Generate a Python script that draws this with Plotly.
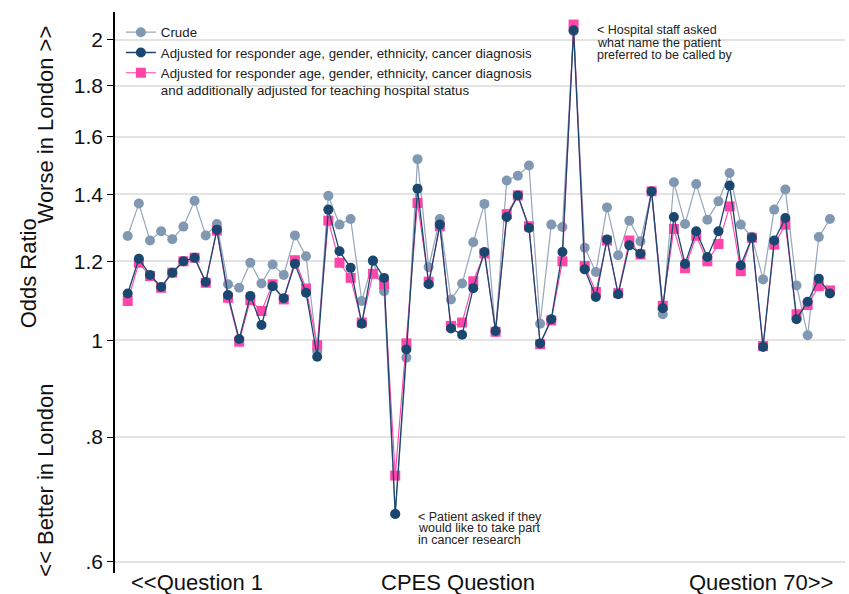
import math
import plotly.graph_objects as go

# Odds ratios (64 plotted CPES questions)
crude = [1.272, 1.371, 1.259, 1.286, 1.263, 1.300, 1.380, 1.274, 1.308, 1.138,
         1.129, 1.196, 1.140, 1.191, 1.163, 1.274, 1.214, 0.975, 1.396, 1.306,
         1.323, 1.095, 1.200, 1.120, 0.670, 0.961, 1.519, 1.184, 1.323, 1.099,
         1.140, 1.254, 1.370, 1.020, 1.446, 1.462, 1.497, 1.039, 1.306, 1.299,
         2.040, 1.238, 1.171, 1.359, 1.217, 1.318, 1.257, 1.410, 1.062, 1.440,
         1.308, 1.434, 1.321, 1.378, 1.471, 1.306, 1.270, 1.151, 1.352, 1.416,
         1.135, 1.012, 1.269, 1.323]
adjusted = [1.114, 1.207, 1.163, 1.131, 1.169, 1.200, 1.210, 1.144, 1.291, 1.110,
            1.003, 1.108, 1.036, 1.133, 1.102, 1.193, 1.116, 0.963, 1.352, 1.228,
            1.182, 1.039, 1.202, 1.155, 0.670, 0.979, 1.419, 1.138, 1.306, 1.028,
            1.013, 1.128, 1.226, 1.022, 1.329, 1.397, 1.296, 0.993, 1.050, 1.226,
            2.045, 1.178, 1.105, 1.262, 1.112, 1.245, 1.221, 1.410, 1.077, 1.329,
            1.193, 1.286, 1.212, 1.286, 1.429, 1.189, 1.267, 0.985, 1.259, 1.326,
            1.050, 1.093, 1.153, 1.114]
teaching = [1.095, 1.196, 1.160, 1.129, 1.169, 1.200, 1.210, 1.142, 1.288, 1.103,
            0.997, 1.097, 1.070, 1.138, 1.099, 1.203, 1.127, 0.989, 1.318, 1.196,
            1.155, 1.042, 1.166, 1.138, 0.732, 0.993, 1.373, 1.145, 1.301, 1.034,
            1.042, 1.146, 1.222, 1.020, 1.338, 1.397, 1.301, 0.991, 1.047, 1.200,
            2.072, 1.187, 1.118, 1.259, 1.115, 1.259, 1.219, 1.410, 1.083, 1.293,
            1.181, 1.273, 1.200, 1.249, 1.362, 1.173, 1.267, 0.987, 1.247, 1.306,
            1.062, 1.085, 1.133, 1.122]
questions = list(range(1, len(crude) + 1))

ytick_vals = [0.6, 0.8, 1, 1.2, 1.4, 1.6, 1.8, 2]
ytick_text = [".6", ".8", "1", "1.2", "1.4", "1.6", "1.8", "2"]

names = ["Crude",
         "Adjusted for responder age, gender, ethnicity, cancer diagnosis",
         "Adjusted for responder age, gender, ethnicity, cancer diagnosis<br>and additionally adjusted for teaching hospital status"]

research_idx = 24   # "Patient asked if they would like to take part in cancer research"
name_idx = 40       # "Hospital staff asked what name the patient preferred to be called by"

FONT = "Liberation Sans, Arial, sans-serif"
GREY = "#8198b2"
NAVY = "#1a476f"
PINK = "#ff45a8"
TXT = "#111111"

fig = go.Figure()
fig.add_trace(go.Scatter(x=questions, y=crude, mode="lines+markers", name=names[0],
                         line=dict(color="#95a6ba", width=1.2),
                         marker=dict(color=GREY, size=10, symbol="circle"),
                         legendrank=1))
fig.add_trace(go.Scatter(x=questions, y=teaching, mode="lines+markers", name=names[2],
                         line=dict(color=PINK, width=1.1),
                         marker=dict(color=PINK, size=10, symbol="square"),
                         legendrank=3))
fig.add_trace(go.Scatter(x=questions, y=adjusted, mode="lines+markers", name=names[1],
                         line=dict(color=NAVY, width=1.3),
                         marker=dict(color=NAVY, size=10, symbol="circle"),
                         legendrank=2))

# reference line at OR = 1
fig.add_shape(type="line", xref="paper", x0=0, x1=1, yref="y", y0=1, y1=1,
              line=dict(color="black", width=1.5), layer="below")

ann = []
# y axis title pieces
ann.append(dict(text="Odds Ratio", xref="paper", yref="paper", x=-0.1185, y=0.535,
                xanchor="center", yanchor="middle",
                textangle=-90, showarrow=False, font=dict(size=22, color=TXT, family=FONT)))
ann.append(dict(text="Worse in London >>", xref="paper", yref="paper", x=-0.0955, y=0.80,
                xanchor="center", yanchor="middle",
                textangle=-90, showarrow=False, font=dict(size=22, color=TXT, family=FONT)))
ann.append(dict(text="<< Better in London", xref="paper", yref="paper", x=-0.0955, y=0.165,
                xanchor="center", yanchor="middle",
                textangle=-90, showarrow=False, font=dict(size=22, color=TXT, family=FONT)))
# x axis labels
for txt, xp in [("<<Question 1", 0.112), ("CPES Question", 0.47), ("Question 70>>", 0.885)]:
    ann.append(dict(text=txt, xref="paper", yref="paper", x=xp, y=0,
                    xanchor="center", yanchor="middle", borderpad=0,
                    yshift=-9, showarrow=False, font=dict(size=22, color=TXT, family=FONT)))

# point annotations
rx = questions[research_idx]
ry = math.log10(adjusted[research_idx])
for k, line in enumerate(["< Patient asked if they", "would like to take part", "in cancer research"]):
    ann.append(dict(text=line, x=rx, y=ry, xanchor="left", yanchor="middle",
                    xshift=22, yshift=-3 - 11.5 * k, showarrow=False, borderpad=0,
                    font=dict(size=12.5, color="#222", family=FONT)))
hx = questions[name_idx]
hy = math.log10(adjusted[name_idx])
for k, line in enumerate(["< Hospital staff asked", "what name the patient", "preferred to be called by"]):
    ann.append(dict(text=line, x=hx, y=hy, xanchor="left", yanchor="middle",
                    xshift=22, yshift=0 - 12.5 * k, showarrow=False, borderpad=0,
                    font=dict(size=12.5, color="#222", family=FONT)))

fig.update_layout(
    width=849, height=594,
    margin=dict(l=115, r=4, t=12, b=21),
    paper_bgcolor="white", plot_bgcolor="white",
    font=dict(family=FONT, color=TXT),
    showlegend=True,
    legend=dict(x=0.008, y=0.991, xanchor="left", yanchor="top",
                bgcolor="rgba(0,0,0,0)", font=dict(size=13.3, color="#222", family=FONT),
                valign="top", tracegroupgap=0, itemwidth=30),
    annotations=ann,
    xaxis=dict(range=[-0.14, 65.35], showticklabels=False, ticks="", showgrid=False,
               zeroline=False, showline=False),
    yaxis=dict(type="log", range=[math.log10(0.5847), math.log10(2.1328)],
               tickvals=ytick_vals, ticktext=ytick_text,
               ticks="outside", ticklen=6, tickwidth=1.2, tickcolor="black",
               tickfont=dict(size=21, color=TXT, family=FONT),
               showline=True, linecolor="black", linewidth=1.5,
               showgrid=True, gridcolor="#e3e3e3", gridwidth=1.5, zeroline=False),
)

fig.write_html("out.html",
               config={"displayModeBar": False},
               post_script="document.body.style.margin='0';document.body.style.overflow='hidden';")
